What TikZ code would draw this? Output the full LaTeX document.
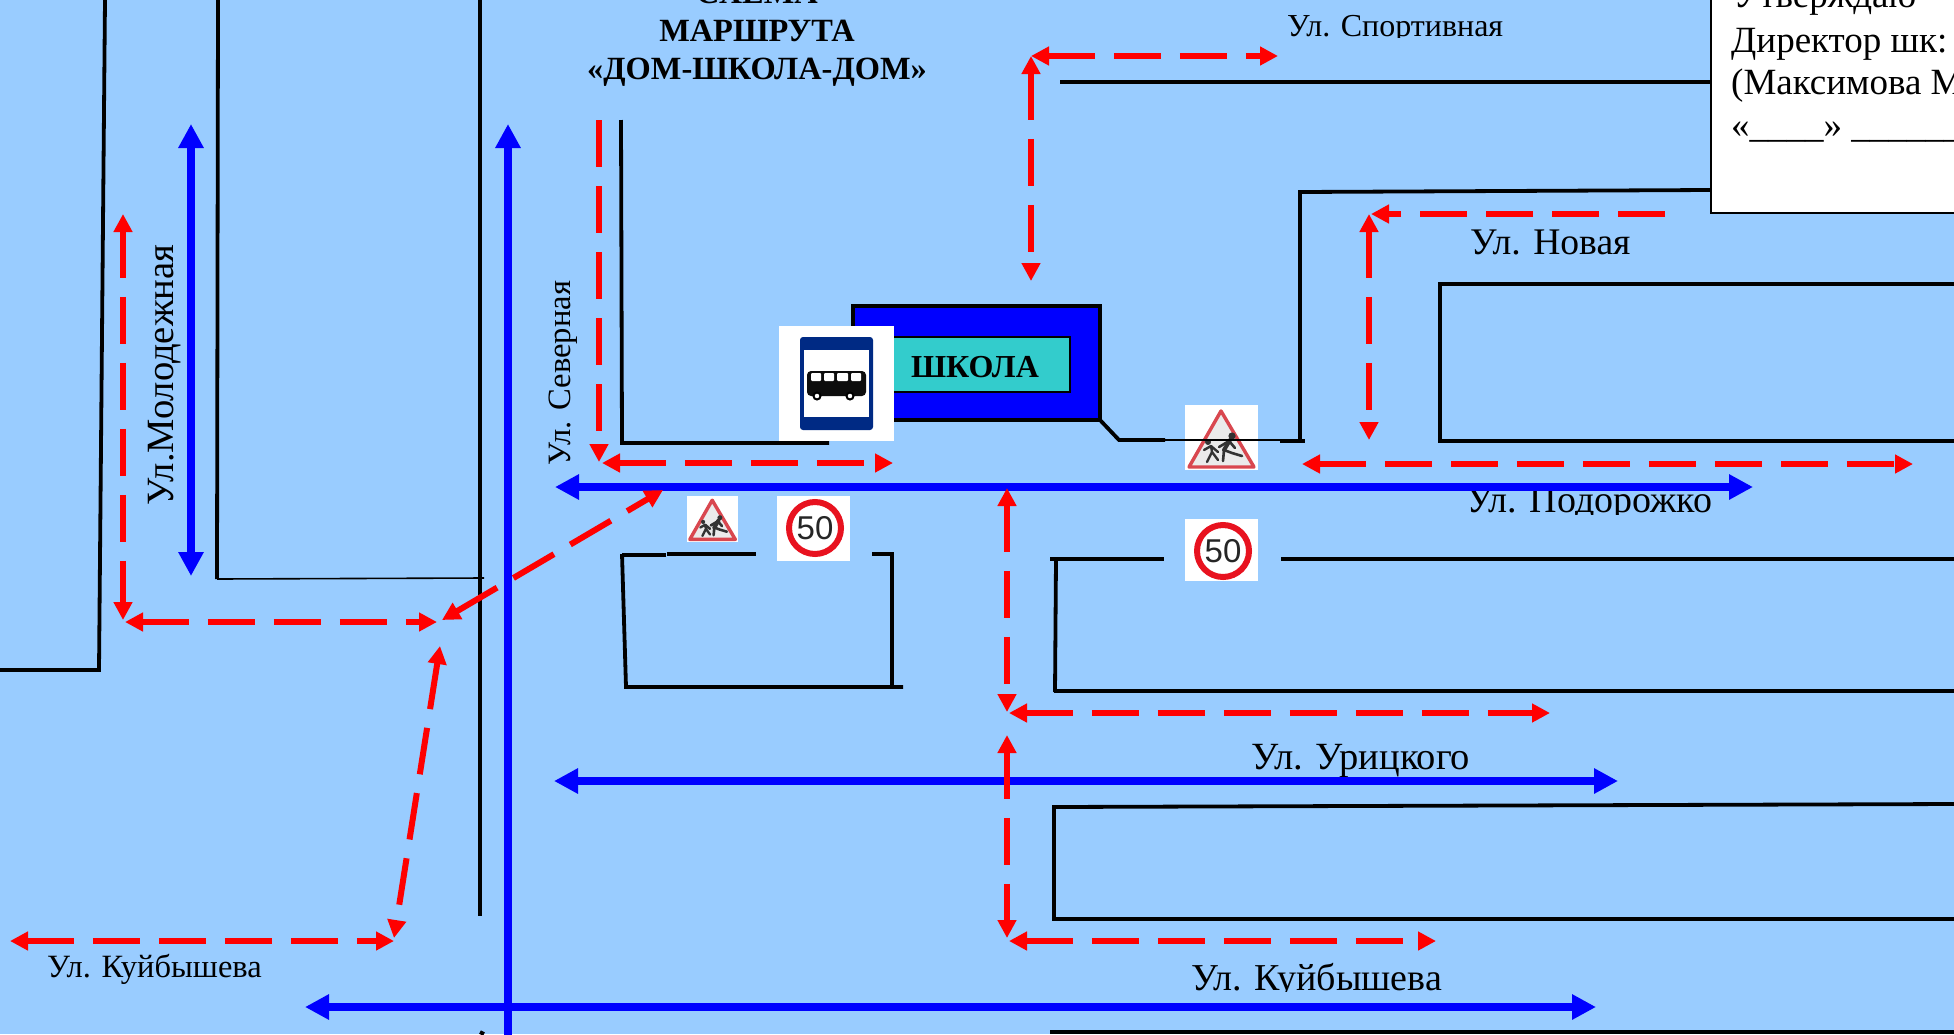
\documentclass[tikz,border=0pt]{standalone}
\usepackage{fontspec}
\setmainfont{Liberation Serif}
\setsansfont{Liberation Sans}
\usetikzlibrary{arrows.meta}
\definecolor{skybg}{HTML}{99CCFF}
\definecolor{schoolteal}{HTML}{33CCCC}
\definecolor{plateblue}{HTML}{002A84}
\definecolor{signred}{HTML}{E8121F}
\definecolor{warnred}{HTML}{D9474F}
\tikzset{
  road/.style={draw=black,line width=3.8pt},
  thinroad/.style={draw=black,line width=1.6pt},
  bluearrow/.style={draw=blue,line width=8.5pt,{Triangle[length=24pt,width=24pt]}-{Triangle[length=24pt,width=24pt]}},
  bluetop/.style={draw=blue,line width=8.5pt,{Triangle[length=24pt,width=24pt]}-},
  walk/.style={draw=red,line width=6pt,dash pattern=on 47pt off 19pt,{Triangle[length=18pt,width=18pt]}-{Triangle[length=18pt,width=18pt]}},
  walkend/.style={draw=red,line width=6pt,dash pattern=on 47pt off 19pt,-{Triangle[length=18pt,width=18pt]}},
  streetlabel/.style={inner sep=0pt,anchor=base west},
  whitepanel/.style={fill=white,draw=none}
}
% 50 sign, centre of the circle is #1, white panel is #2 to #3
\newcommand{\limitsign}[4]{
  \fill[whitepanel] (#2) rectangle (#3);
  \draw[signred,fill=white,line width=6pt] (#1) circle (26pt);
  \node[font=\fontsize{33}{33}\selectfont\sffamily,text=black!85,inner sep=0pt] (#4) at (#1) {50};
}
% children sign, scaled around its panel
\newcommand{\childsign}[3]{
  \begin{scope}[shift={(#1)},scale=#2]
    \fill[whitepanel] (0,0) rectangle (73,65);
    \draw[warnred,fill=black!8,line width=3.4pt,line join=round] (36,6) -- (69,62) -- (4,62) -- cycle;
    \draw[black!80,line width=4pt,line cap=round,line join=round] (45,35) -- (39,45);
    \draw[black!80,line width=2.6pt,line cap=round,line join=round] (39,45) -- (47,48) -- (57,51) (39,45) -- (38,56) (44,36) -- (50,43) (44,36) -- (34,42);
    \draw[black!80,line width=2.4pt,line cap=round,line join=round] (26,41) -- (27,47) -- (22,57) (27,47) -- (33,55) (26,41) -- (19,45) (26,41) -- (33,47);
    \fill[black!80] (47,31) circle (3.6) (23,37) circle (3);
    \node (#3) at (36,36) {};
  \end{scope}
}

\begin{document}
\begin{tikzpicture}[x=1pt,y=-1pt]
  \useasboundingbox (0,0) rectangle (1954,1034);
  \clip (0,0) rectangle (1954,1034);
  \fill[skybg] (0,0) rectangle (1954,1034);

  % streets
  \draw[road] (105,0) -- (99,670) -- (0,670);
  \draw[road] (218,0) -- (217,579);
  \draw[thinroad] (217,579) -- (484,578);
  \draw[road] (480,0) -- (480,916);
  \draw[road] (621,120) -- (622,443) -- (829,443);
  \draw[road] (1060,82) -- (1710,82);
  \draw[road] (1280,441) -- (1305,441);
  \draw[road] (1300,442) -- (1300,192) -- (1710,190);
  \draw[road] (1954,284) -- (1440,284) -- (1440,441) -- (1954,441);
  \draw[road] (622,554) -- (626,687) -- (903,687);
  \draw[road] (622,555) -- (666,555);
  \draw[road] (667,554) -- (756,554);
  \draw[road] (872,554) -- (892,554) -- (892,688);
  \draw[road] (1050,559) -- (1164,559);
  \draw[road] (1281,559) -- (1954,559);
  \draw[road] (1056,559) -- (1055,692);
  \draw[road] (1054,691) -- (1954,691);
  \draw[road] (1954,804) -- (1054,807) -- (1054,919) -- (1954,919);
  \draw[road] (1050,1032) -- (1954,1032);
  \draw[road] (480,1032) -- (484,1034);

  % school
  \draw[fill=blue,line width=4pt] (852.5,306) rectangle (1100,420);
  \node[draw=black,line width=1.6pt,fill=schoolteal,minimum width=200pt,minimum height=55pt,inner sep=0pt] (school) at (970,364.5) {};
  \node[inner sep=0pt,anchor=base,font=\fontsize{32}{32}\selectfont\bfseries] (schoolname) at (975,377) {ШКОЛА};
  \draw[road] (1100,420) -- (1119,440) -- (1165,440);

  % signs
  \fill[whitepanel] (779,326) rectangle (894,441);
  \fill[plateblue,rounded corners=3pt] (800,337) rectangle (873,430);
  \fill[white] (804,350) rectangle (869,417);
  \fill[black!95,rounded corners=4pt] (807,371) rectangle (866,396);
  \fill[white,rounded corners=1pt] (811,373) rectangle (821,381) (824,373) rectangle (834,381) (837,373) rectangle (848,381) (851,373) rectangle (861,381);
  \draw[black,fill=white,line width=2pt] (817,396) circle (3.5) (850,396) circle (3.5);
  \childsign{1185,405}{1}{childnorth}
  \childsign{687,496}{0.7}{childwest}
  \draw[thinroad] (1165,440) -- (1300,440);
  \limitsign{815,528}{777,496}{850,561}{limitwest}
  \limitsign{1223,551}{1185,519}{1258,581}{limiteast}

  % street names
  \begin{scope}
    \clip (1280,0) rectangle (1510,37);
    \node[streetlabel,font=\fontsize{32}{32}\selectfont] (sportivnaya) at (1287,36) {Ул. Спортивная};
  \end{scope}
  \node[streetlabel,font=\fontsize{37.6}{37.6}\selectfont] (novaya) at (1470,254) {Ул. Новая};
  \begin{scope}
    \clip (1460,480) rectangle (1720,514);
    \node[streetlabel,font=\fontsize{38}{38}\selectfont] (podorozhko) at (1466,512) {Ул. Подорожко};
  \end{scope}
  \node[streetlabel,font=\fontsize{38.5}{38.5}\selectfont] (uritskogo) at (1251,769) {Ул. Урицкого};
  \begin{scope}
    \clip (1185,950) rectangle (1450,991);
    \node[streetlabel,font=\fontsize{38}{38}\selectfont] (kuibyshevright) at (1191,990) {Ул. Куйбышева};
  \end{scope}
  \node[streetlabel,font=\fontsize{32.5}{32.5}\selectfont] (kuibyshevleft) at (47,977) {Ул. Куйбышева};
  \node[inner sep=0pt,rotate=90,anchor=base,font=\fontsize{38.6}{38.6}\selectfont] (molodezhnaya) at (173,375) {Ул.Молодежная};
  \node[inner sep=0pt,rotate=90,anchor=base,font=\fontsize{32.6}{32.6}\selectfont] (severnaya) at (570,373) {Ул. Северная};

  % bus and car routes
  \draw[bluearrow] (191,124) -- (191,576);
  \draw[bluetop] (508,124) -- (508,1040);
  \draw[bluearrow] (555,487) -- (1753,487);
  \draw[bluearrow] (554,781) -- (1618,781);
  \draw[bluearrow] (305,1007) -- (1596,1007);

  % walking routes
  \draw[walkend] (599,120) -- (599,462);
  \draw[walk] (602,463) -- (893,463);
  \draw[walk] (1031,56) -- (1278,56);
  \draw[walk] (1031,56) -- (1031,281);
  \draw[walk] (1369,214) -- (1369,440);
  \draw[walkend] (1665,214) -- (1371,214);
  \draw[walk] (1302,464) -- (1913,464);
  \draw[walk] (1007,488) -- (1007,712);
  \draw[walk] (1009,713) -- (1550,713);
  \draw[walk] (1007,735) -- (1007,938);
  \draw[walk] (1009,941) -- (1436,941);
  \draw[walk] (123,214) -- (123,620);
  \draw[walk] (125,622) -- (437,622);
  \draw[walk] (442,620) -- (663,490);
  \draw[walk] (440,646) -- (394,938);
  \draw[walk] (10,941) -- (394,941);

  % title
  \node[inner sep=0pt,anchor=base,font=\fontsize{32.4}{32.4}\selectfont\bfseries] (titlea) at (757,3) {СХЕМА};
  \node[inner sep=0pt,anchor=base,font=\fontsize{32.4}{32.4}\selectfont\bfseries] (titleb) at (757,41) {МАРШРУТА};
  \node[inner sep=0pt,anchor=base,font=\fontsize{32.4}{32.4}\selectfont\bfseries] (titlec) at (757,79) {«ДОМ-ШКОЛА-ДОМ»};

  % approval box
  \draw[fill=white,line width=2pt] (1711,-10) rectangle (1970,213);
  \node[inner sep=0pt,anchor=base west,font=\fontsize{37}{37}\selectfont] (approvea) at (1733,7) {Утверждаю};
  \node[inner sep=0pt,anchor=base west,font=\fontsize{37}{37}\selectfont] (approveb) at (1731,52) {Директор шк:};
  \node[inner sep=0pt,anchor=base west,font=\fontsize{37}{37}\selectfont] (approvec) at (1731,94) {(Максимова М};
  \node[inner sep=0pt,anchor=base west,font=\fontsize{37}{37}\selectfont] (approved) at (1731,137) {«\_\_\_\_» \_\_\_\_\_\_\_\_};
\end{tikzpicture}
\end{document}
